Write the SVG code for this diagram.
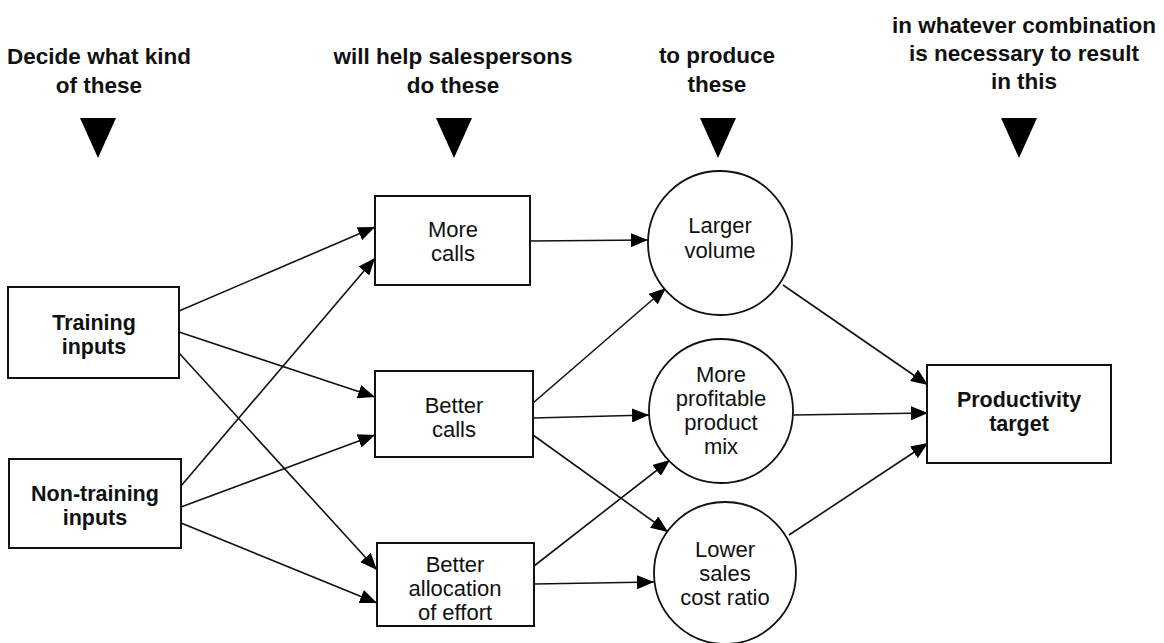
<svg xmlns="http://www.w3.org/2000/svg" width="1164" height="643" viewBox="0 0 1164 643">
<style>
.hdr{font-family:"Liberation Sans",Arial,sans-serif;font-weight:bold;font-size:22.5px;fill:#111;text-anchor:middle}
.bold{font-family:"Liberation Sans",Arial,sans-serif;font-weight:bold;font-size:21.5px;fill:#111;text-anchor:middle}
.reg{font-family:"Liberation Sans",Arial,sans-serif;font-size:22px;fill:#111;text-anchor:middle}
.box{fill:#fff;stroke:#111;stroke-width:2}
.circ{fill:#fff;stroke:#111;stroke-width:1.8}
.edge{fill:none;stroke:#111;stroke-width:1.6;marker-end:url(#ah)}
.tri{fill:#000}
</style>
<defs>
<marker id="ah" markerUnits="userSpaceOnUse" markerWidth="18" markerHeight="14" refX="17" refY="7" orient="auto">
<path d="M0,0 L17,7 L0,14 z" fill="#000"/>
</marker>
</defs>
<rect width="1164" height="643" fill="#fff"/>
<g id="headers">
<text class="hdr" x="99" y="64">Decide what kind</text>
<text class="hdr" x="99" y="93">of these</text>
<text class="hdr" x="453" y="64">will help salespersons</text>
<text class="hdr" x="453" y="93">do these</text>
<text class="hdr" x="717" y="63">to produce</text>
<text class="hdr" x="717" y="92">these</text>
<text class="hdr" x="1024" y="33">in whatever combination</text>
<text class="hdr" x="1024" y="61">is necessary to result</text>
<text class="hdr" x="1024" y="89">in this</text>
<polygon class="tri" points="80,118 116,118 98,158"/>
<polygon class="tri" points="436,118 472,118 454,158"/>
<polygon class="tri" points="700,118 736,118 718,158"/>
<polygon class="tri" points="1001,118 1037,118 1019,158"/>
</g>
<g id="connectors">
<line class="edge" x1="179" y1="311" x2="375" y2="227"/>
<line class="edge" x1="179" y1="332" x2="375" y2="397"/>
<line class="edge" x1="179" y1="353" x2="377" y2="570"/>
<line class="edge" x1="181" y1="486" x2="375" y2="258"/>
<line class="edge" x1="181" y1="507" x2="375" y2="435"/>
<line class="edge" x1="181" y1="523" x2="377" y2="603"/>
<line class="edge" x1="530" y1="241" x2="648" y2="240"/>
<line class="edge" x1="533" y1="403" x2="666" y2="288"/>
<line class="edge" x1="533" y1="418" x2="649" y2="415"/>
<line class="edge" x1="533" y1="435" x2="668" y2="532"/>
<line class="edge" x1="534" y1="566" x2="670" y2="460"/>
<line class="edge" x1="534" y1="584" x2="654" y2="582"/>
<line class="edge" x1="783" y1="285" x2="928" y2="385"/>
<line class="edge" x1="793" y1="415" x2="928" y2="413"/>
<line class="edge" x1="789" y1="535" x2="928" y2="443"/>
</g>
<g id="training">
<rect class="box" x="8" y="287" width="171" height="91"/>
<text class="bold" x="94" y="330">Training</text>
<text class="bold" x="94" y="354">inputs</text>
</g>
<g id="nontraining">
<rect class="box" x="9" y="459" width="172" height="89"/>
<text class="bold" x="95" y="501">Non-training</text>
<text class="bold" x="95" y="525">inputs</text>
</g>
<g id="morecalls">
<rect class="box" x="375" y="196" width="155" height="89"/>
<text class="reg" x="453" y="237">More</text>
<text class="reg" x="453" y="261">calls</text>
</g>
<g id="bettercalls">
<rect class="box" x="375" y="371" width="158" height="86"/>
<text class="reg" x="454" y="413">Better</text>
<text class="reg" x="454" y="437">calls</text>
</g>
<g id="betteralloc">
<rect class="box" x="377" y="543" width="157" height="83"/>
<text class="reg" x="455" y="572">Better</text>
<text class="reg" x="455" y="596">allocation</text>
<text class="reg" x="455" y="620">of effort</text>
</g>
<g id="largervolume">
<circle class="circ" cx="720" cy="243" r="72"/>
<text class="reg" x="720" y="233">Larger</text>
<text class="reg" x="720" y="258">volume</text>
</g>
<g id="profitablemix">
<circle class="circ" cx="721" cy="411" r="72"/>
<text class="reg" x="721" y="382">More</text>
<text class="reg" x="721" y="406">profitable</text>
<text class="reg" x="721" y="430">product</text>
<text class="reg" x="721" y="454">mix</text>
</g>
<g id="lowercost">
<circle class="circ" cx="725" cy="573" r="71"/>
<text class="reg" x="725" y="557">Lower</text>
<text class="reg" x="725" y="581">sales</text>
<text class="reg" x="725" y="605">cost ratio</text>
</g>
<g id="target">
<rect class="box" x="927" y="365" width="184" height="98"/>
<text class="bold" x="1019" y="407">Productivity</text>
<text class="bold" x="1019" y="431">target</text>
</g>
</svg>
